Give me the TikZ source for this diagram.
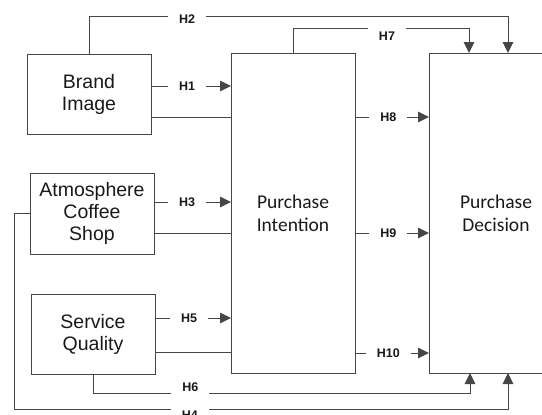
\documentclass[tikz,border=0pt]{standalone}
\usepackage{fontspec}
\setmainfont{Liberation Sans}
\newfontfamily\carlito{Carlito}
\usepackage{tikz}
\usetikzlibrary{arrows.meta,positioning}
\definecolor{linegray}{RGB}{70,70,70}

\begin{document}
\begin{tikzpicture}[
			x=1pt,y=-1pt,
			box/.style={draw=linegray,line width=1pt,align=center,outer sep=0pt,text=black!90,minimum width=124pt,minimum height=80pt,font=\fontsize{19.5}{22}\selectfont},
			bigbox/.style={box,minimum height=320pt,font=\carlito\fontsize{19.5}{23}\selectfont},
			link/.style={draw=linegray,line width=1pt},
			arrow/.style={link,-{Triangle[length=11pt,width=10.5pt]}},
			hyp/.style={fill=white,text=black!90,font=\bfseries\fontsize{12.5}{14}\selectfont,inner xsep=11pt,minimum height=22pt}
			]
			\useasboundingbox (0,0) rectangle (542,415);
			\clip (0,0) rectangle (542,415);
			\node[box] (brand) at (89,94) {Brand\\Image};
			\node[box,minimum height=81pt] (atmos) at (92,213.5) {Atmosphere\\Coffee\\Shop};
			\node[box] (service) at (93,334) {Service\\Quality};
			\node[bigbox] (intention) at (293,213) {Purchase\\Intention};
			\node[bigbox,minimum width=134pt] (decision) at (496,213) {Purchase\\Decision};
			\draw[arrow] ([yshift=8pt]brand.east) -- ([yshift=8pt]brand.east -| intention.west) node[hyp,pos=.45] {H1};
			\draw[link] ([yshift=-23pt]brand.east) -- ([yshift=-23pt]brand.east -| intention.west);
			\draw[arrow] ([yshift=11.5pt]atmos.east) -- ([yshift=11.5pt]atmos.east -| intention.west) node[hyp,pos=.43] {H3};
			\draw[link] ([yshift=-19.5pt]atmos.east) -- ([yshift=-19.5pt]atmos.east -| intention.west);
			\draw[arrow] ([yshift=16pt]service.east) -- ([yshift=16pt]service.east -| intention.west) node[hyp,pos=.45] {H5};
			\draw[link] ([yshift=-18pt]service.east) -- ([yshift=-18pt]service.east -| intention.west);
			\draw[arrow] ([yshift=96pt]intention.east) -- ([yshift=96pt]intention.east -| decision.west) node[hyp,pos=.45] {H8};
			\draw[arrow] ([yshift=-20pt]intention.east) -- ([yshift=-20pt]intention.east -| decision.west) node[hyp,pos=.45] {H9};
			\draw[arrow] ([yshift=-140pt]intention.east) -- ([yshift=-140pt]intention.east -| decision.west) node[hyp,pos=.45] {H10};
			\draw[arrow] (brand.north) -- ++(0,-38) -| node[hyp,pos=.117,yshift=-3.5pt] {H2} ([xshift=12pt]decision.north);
			\draw[arrow] (intention.north) -- ++(0,-25) -| node[hyp,pos=.267,yshift=-8pt] {H7} ([xshift=-27pt]decision.north);
			\draw[arrow] (service.south) -- ++(0,19) -| node[hyp,pos=.129,yshift=6pt] {H6} ([xshift=-26pt]decision.south);
			\draw[arrow] (atmos.west) -- ++(-16,0) |- node[hyp,pos=.678,yshift=-6pt] {H4} ([xshift=12pt,yshift=-36pt]decision.south) -- ([xshift=12pt]decision.south);
		\end{tikzpicture}
\end{document}
